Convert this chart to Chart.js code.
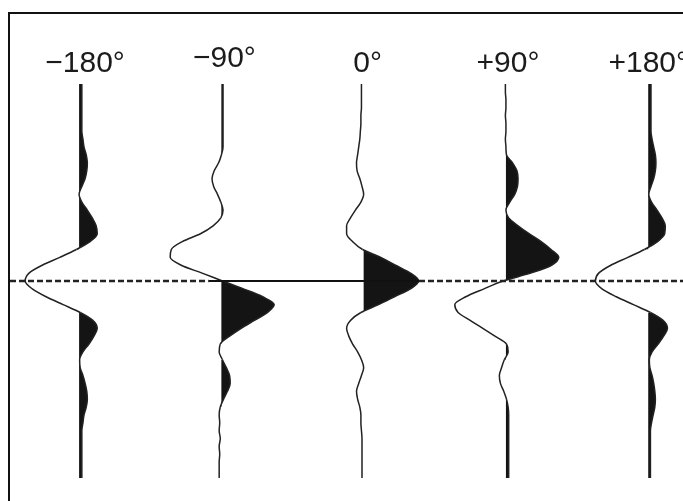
<!DOCTYPE html>
<html>
<head>
<meta charset="utf-8">
<title>Wavelet phase rotation</title>
<script src="https://cdn.jsdelivr.net/npm/chart.js@4.4.1/dist/chart.umd.min.js"></script>
<style>
  html, body { margin: 0; padding: 0; background: #fff; }
  #figure { position: relative; width: 683px; height: 501px; overflow: hidden; background: #fff; }
  #frame { position: absolute; left: 8px; top: 12px; width: 700px; height: 520px;
           border-left: 2px solid #111; border-top: 2px solid #111; }
  #plot { position: absolute; left: 10px; top: 14px; }
</style>
</head>
<body>
<div id="figure">
  <div id="frame"></div>
  <canvas id="plot" width="673" height="487"></canvas>
</div>
<script>
// Phase rotation of a zero-phase wavelet: one wiggle trace per rotation angle.
const phases = [-180, -90, 0, 90, 180];
const phaseLabels = ['\u2212180°', '\u221290°', '0°', '+90°', '+180°'];

// Two-way time of each sample (ms); the wavelet is centred at 200 ms.
const timeMs = [0, 8, 16, 24, 32, 40, 48, 56, 64, 72, 80, 88, 96, 104, 112, 120, 128,
  136, 144, 152, 160, 168, 176, 184, 192, 200, 208, 216, 224, 232, 240, 248, 256, 264,
  272, 280, 288, 296, 304, 312, 320, 328, 336, 344, 352, 360, 368, 376, 384, 392, 400];

// Normalised amplitudes (zero-phase peak = 1).
const ampMinus180 = [0.05, 0.05, 0.05, 0.05, 0.05, 0.05, 0.05, 0.07, 0.09, 0.13, 0.15,
  0.14, 0.11, 0.05, 0.00, 0.05, 0.15, 0.24, 0.31, 0.33, 0.20, -0.05, -0.35, -0.67, -0.91,
  -0.98, -0.85, -0.60, -0.29, 0.02, 0.25, 0.33, 0.27, 0.18, 0.07, 0.01, 0.02, 0.07, 0.11,
  0.14, 0.15, 0.13, 0.09, 0.07, 0.05, 0.05, 0.05, 0.05, 0.05, 0.05, 0.05];
const ampMinus90 = [0.03, 0.03, 0.03, 0.03, 0.03, 0.03, 0.03, 0.03, 0.03, 0.00, -0.05,
  -0.13, -0.17, -0.14, -0.07, -0.01, 0.03, -0.01, -0.15, -0.38, -0.71, -0.91, -0.93, -0.73,
  -0.35, 0.02, 0.40, 0.75, 0.96, 0.84, 0.60, 0.36, 0.15, -0.02, -0.04, 0.02, 0.09, 0.15,
  0.16, 0.11, 0.04, -0.02, -0.04, -0.03, -0.04, -0.02, -0.04, -0.03, -0.04, -0.04, -0.04];
const amp0 = [-0.04, -0.04, -0.04, -0.04, -0.05, -0.05, -0.06, -0.07, -0.09, -0.11, -0.13,
  -0.12, -0.07, -0.03, 0.00, -0.05, -0.15, -0.24, -0.31, -0.31, -0.20, -0.02, 0.31, 0.58,
  0.85, 1.00, 0.85, 0.56, 0.27, -0.05, -0.24, -0.31, -0.27, -0.20, -0.11, -0.04, 0.00,
  -0.04, -0.09, -0.13, -0.11, -0.07, -0.05, -0.05, -0.04, -0.03, -0.03, -0.03, -0.03,
  -0.03, -0.03];
const ampPlus90 = [-0.01, -0.01, 0.00, 0.00, -0.01, 0.00, 0.00, -0.01, 0.00, 0.01, 0.12,
  0.20, 0.22, 0.21, 0.16, 0.07, 0.00, 0.05, 0.22, 0.42, 0.64, 0.82, 0.96, 0.83, 0.45,
  -0.05, -0.40, -0.73, -0.93, -0.87, -0.65, -0.42, -0.20, 0.01, 0.04, -0.03, -0.08, -0.12,
  -0.10, -0.04, 0.01, 0.04, 0.05, 0.05, 0.05, 0.05, 0.05, 0.05, 0.05, 0.05, 0.05];
const ampPlus180 = [0.05, 0.05, 0.05, 0.05, 0.05, 0.05, 0.05, 0.07, 0.10, 0.13, 0.14,
  0.13, 0.10, 0.05, 0.01, 0.06, 0.16, 0.25, 0.31, 0.30, 0.17, -0.07, -0.37, -0.68, -0.90,
  -0.96, -0.84, -0.58, -0.27, 0.04, 0.27, 0.35, 0.28, 0.18, 0.07, 0.02, 0.03, 0.07, 0.10,
  0.12, 0.13, 0.12, 0.09, 0.06, 0.04, 0.04, 0.04, 0.04, 0.04, 0.04, 0.04];

const traces = [ampMinus180, ampMinus90, amp0, ampPlus90, ampPlus180];

// Zero-time reference line; it is drawn solid across this phase span.
const zeroTimeMs = 200;
const solidSpanDeg = [-98, 35];

// Display settings
const GAIN = 34.8;                 // degrees of trace offset per unit amplitude
const X_MIN = -223.7, X_MAX = 202.0;
const T_MIN = -71.1, T_MAX = 423.4;
const INK = '#141414';
const CLEAR = 'rgba(0,0,0,0)';
const LABEL_FONT = '30px "Liberation Sans", Arial, sans-serif';
const LABEL_BASELINE = 58;
const LABEL_DX = [6, 3, 4, 2, 0];
const LABEL_DY = [0, -5, 0, 0, 0];

const referenceLine = {
  label: 'zero time',
  data: [X_MIN, solidSpanDeg[0], solidSpanDeg[1], X_MAX].map(x => ({ x, y: zeroTimeMs })),
  borderColor: '#1e1e1e',
  borderWidth: 2.6,
  pointRadius: 0,
  fill: false,
  segment: {
    borderDash: c => (c.p0DataIndex === 1 ? [] : [6, 3]),
    borderWidth: c => (c.p0DataIndex === 1 ? 1.9 : 2.6),
    borderColor: c => (c.p0DataIndex === 1 ? '#111111' : '#222222')
  }
};

// Variable-area wiggle traces: positive half filled black.
const traceSets = traces.map((amp, k) => {
  const base = phases[k];
  return {
    label: phaseLabels[k],
    data: amp.map((a, i) => ({ x: base + a * GAIN, y: timeMs[i] })),
    borderColor: '#222222',
    borderWidth: 1.5,
    backgroundColor: INK,
    pointRadius: 0,
    cubicInterpolationMode: 'monotone',
    fill: { value: base },
    segment: {
      backgroundColor: c => ((c.p0.parsed.x + c.p1.parsed.x) / 2 > base ? INK : CLEAR)
    }
  };
});

// Phase labels above each trace.
const phaseLabelPlugin = {
  id: 'phaseLabels',
  afterDraw(chart) {
    const { ctx } = chart;
    const x = chart.scales.x;
    ctx.save();
    ctx.font = LABEL_FONT;
    ctx.fillStyle = '#1b1b1b';
    ctx.textAlign = 'center';
    ctx.textBaseline = 'alphabetic';
    phases.forEach((p, i) => {
      ctx.fillText(phaseLabels[i], x.getPixelForValue(p) + LABEL_DX[i], LABEL_BASELINE + LABEL_DY[i]);
    });
    ctx.restore();
  }
};

new Chart(document.getElementById('plot'), {
  type: 'line',
  data: { datasets: [referenceLine, ...traceSets] },
  options: {
    responsive: false,
    animation: false,
    indexAxis: 'y',
    events: [],
    layout: { padding: 0 },
    scales: {
      x: { type: 'linear', min: X_MIN, max: X_MAX, display: false },
      y: { type: 'linear', min: T_MIN, max: T_MAX, reverse: true, display: false }
    },
    plugins: { legend: { display: false }, tooltip: { enabled: false } }
  },
  plugins: [phaseLabelPlugin]
});
</script>
</body>
</html>
